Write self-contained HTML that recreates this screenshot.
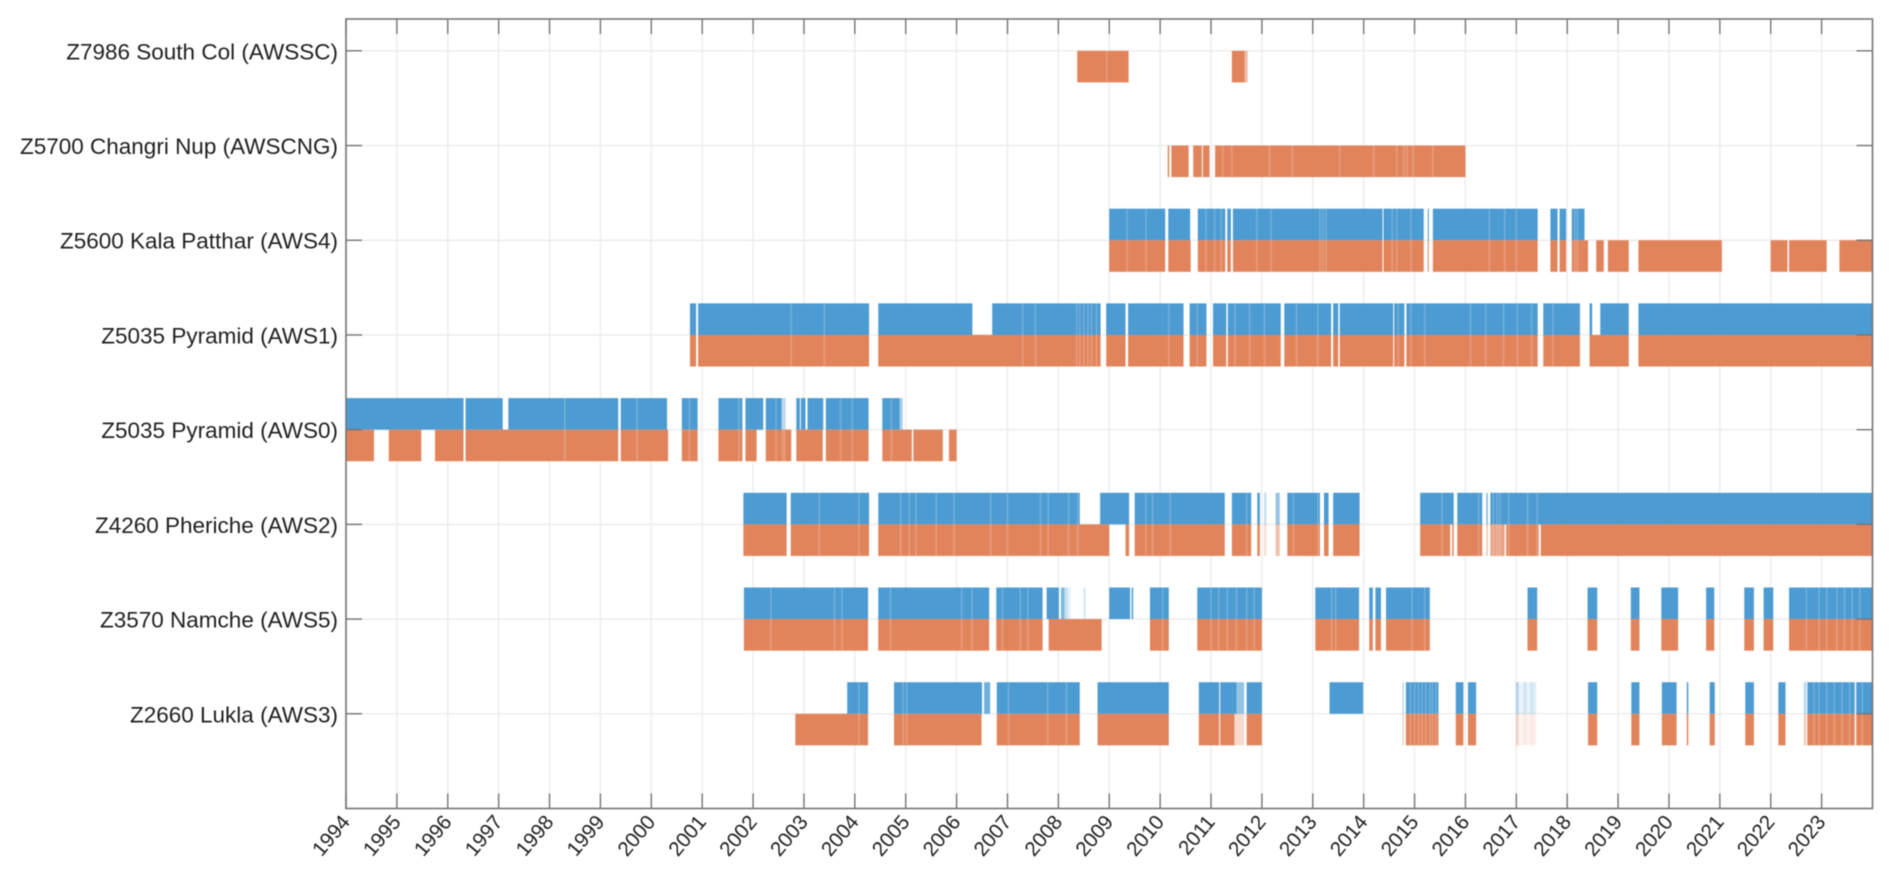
<!DOCTYPE html>
<html>
<head>
<meta charset="utf-8">
<title>AWS data availability</title>
<style>
html,body{margin:0;padding:0;background:#fff;width:1892px;height:886px;overflow:hidden}
svg{display:block;filter:blur(0.45px)}
text{font-family:"Liberation Sans",Arial,sans-serif;fill:#1f1f1f;font-size:22.5px}
</style>
</head>
<body>
<svg id="chart" xmlns="http://www.w3.org/2000/svg" width="1892" height="886" viewBox="0 0 1892 886">
<rect width="1892" height="886" fill="#ffffff"/>
</svg>
<script>
// Categories and ticks
const yearTicks = [1994,1995,1996,1997,1998,1999,2000,2001,2002,2003,2004,2005,2006,2007,2008,2009,2010,2011,2012,2013,2014,2015,2016,2017,2018,2019,2020,2021,2022,2023];
const stationLabels = ["Z2660 Lukla (AWS3)","Z3570 Namche (AWS5)","Z4260 Pheriche (AWS2)","Z5035 Pyramid (AWS0)","Z5035 Pyramid (AWS1)","Z5600 Kala Patthar (AWS4)","Z5700 Changri Nup (AWSCNG)","Z7986 South Col (AWSSC)"];
const stationRows = [1,2,3,4,5,6,7,8];

// Availability spans: [start year, end year, optional coverage]
const luklaBlue = [[2003.85,2004.26],[2004.77,2006.50],[2006.54,2006.66,0.8],[2006.79,2008.42],[2008.77,2010.17],[2010.76,2011.16],[2011.18,2011.50],[2011.50,2011.65,0.6],[2011.70,2012.0],[2013.33,2013.99],[2014.76,2014.79,0.35],[2014.83,2015.47],[2015.81,2015.96],[2016.05,2016.21],[2016.99,2017.05,0.38],[2017.05,2017.14,0.12],[2017.14,2017.2,0.26],[2017.2,2017.27,0.12],[2017.27,2017.33,0.26],[2017.33,2017.39,0.18],[2018.41,2018.59],[2019.26,2019.42],[2019.86,2020.15],[2020.35,2020.38],[2020.80,2020.90],[2021.50,2021.67],[2022.15,2022.29],[2022.65,2022.70,0.4],[2022.72,2023.65],[2023.68,2024]];
const luklaOrange = [[2002.83,2004.26],[2004.77,2006.49],[2006.79,2008.42],[2008.77,2010.17],[2010.76,2011.16],[2011.18,2011.46],[2011.46,2011.65,0.3],[2011.70,2012.0],[2014.76,2014.79,0.35],[2014.83,2015.47],[2015.81,2015.96],[2016.05,2016.21],[2016.99,2017.05,0.3],[2017.05,2017.14,0.1],[2017.14,2017.2,0.18],[2017.2,2017.27,0.1],[2017.27,2017.33,0.18],[2017.33,2017.39,0.12],[2018.41,2018.59],[2019.26,2019.42],[2019.86,2020.15],[2020.35,2020.38],[2020.80,2020.90],[2021.50,2021.67],[2022.15,2022.29],[2022.65,2022.70,0.4],[2022.72,2023.65],[2023.68,2024]];
const luklaStripes = [2004.08,2004.95,2005.02,2007.02,2007.79,2008.16,2014.92,2015.0,2015.08,2015.15,2015.22,2015.3,2015.35,2015.42,2022.85,2022.95,2023.1,2023.25,2023.4,2023.55,2023.8];

const namcheBlue = [[2001.82,2004.26],[2004.46,2006.64],[2006.78,2007.69],[2007.77,2008.01],[2008.05,2008.12,0.7],[2008.12,2008.19,0.3],[2008.19,2008.25,0.12],[2008.50,2008.53,0.3],[2009.0,2009.41],[2009.44,2009.47],[2009.80,2010.17],[2010.73,2012.0],[2013.05,2013.91],[2014.11,2014.18],[2014.23,2014.34],[2014.44,2015.30],[2017.22,2017.41],[2018.40,2018.59],[2019.25,2019.42],[2019.85,2020.18],[2020.73,2020.89],[2021.48,2021.67],[2021.86,2022.05],[2022.36,2024]];
const namcheOrange = [[2001.82,2004.26],[2004.46,2006.64],[2006.78,2007.69],[2007.81,2008.85],[2009.80,2010.17],[2010.73,2012.0],[2013.05,2013.91],[2014.11,2014.18],[2014.23,2014.34],[2014.44,2015.30],[2017.22,2017.41],[2018.40,2018.59],[2019.25,2019.42],[2019.85,2020.18],[2020.73,2020.89],[2021.48,2021.67],[2021.86,2022.05],[2022.36,2024]];
const namcheStripes = [2002.35,2003.6,2003.75,2004.7,2006.1,2006.3,2006.9,2007.25,2007.4,2010.05,2011.0,2011.15,2011.32,2011.5,2011.7,2011.85,2013.37,2013.45,2014.95,2015.2,2022.7,2022.95,2023.1,2023.3,2023.45,2023.6,2023.75];

const phericheBlue = [[2001.81,2002.66],[2002.74,2004.28],[2004.46,2008.42],[2008.82,2009.39],[2009.50,2011.27],[2011.41,2011.79],[2011.91,2011.96],[2012.04,2012.09,0.3],[2012.27,2012.35,0.6],[2012.50,2013.14],[2013.22,2013.31],[2013.40,2013.92],[2015.11,2015.77],[2015.84,2016.33],[2016.41,2016.44,0.7],[2016.49,2024]];
const phericheOrange = [[2001.81,2002.66],[2002.74,2004.28],[2004.46,2009.0],[2009.32,2009.39],[2009.50,2011.27],[2011.41,2011.79],[2011.91,2011.96],[2012.04,2012.09,0.25],[2012.27,2012.35,0.5],[2012.50,2013.14],[2013.22,2013.31],[2013.40,2013.92],[2015.11,2015.70],[2015.74,2015.77],[2015.84,2016.33],[2016.41,2016.44,0.5],[2016.49,2016.77,0.75],[2016.80,2017.44],[2017.48,2024]];
const phericheStripes = [2003.3,2004.08,2004.9,2005.07,2005.2,2005.6,2005.95,2006.67,2007.0,2007.65,2007.8,2008.38,2008.2,2009.72,2009.85,2010.2,2011.7,2012.62,2013.1,2014.0,2015.54,2016.26,2016.55,2016.62,2016.68,2016.85,2017.22,2017.41];

const pyramid0Blue = [[1994,1996.31],[1996.35,1997.08],[1997.19,1999.35],[1999.40,2000.31],[2000.60,2000.91],[2001.32,2001.79],[2001.85,2002.20],[2002.25,2002.56],[2002.56,2002.64,0.45],[2002.85,2002.92],[2002.94,2003.03],[2003.07,2003.38],[2003.43,2004.27],[2004.54,2004.88],[2004.88,2004.94,0.5]];
const pyramid0Orange = [[1994,1994.55],[1994.84,1995.48],[1995.75,1996.31],[1996.35,1999.35],[1999.40,2000.33],[2000.60,2000.91],[2001.32,2001.79],[2001.85,2002.07],[2002.25,2002.75],[2002.85,2003.37],[2003.43,2004.27],[2004.54,2005.12],[2005.15,2005.73],[2005.85,2006.0]];
const pyramid0Stripes = [1998.30,1999.72,2000.75,2001.72,2002.45,2002.58,2002.62,2003.72,2003.95,2004.72];

const pyramid1Blue = [[2000.76,2000.88],[2000.92,2004.28],[2004.46,2006.31],[2006.70,2008.83],[2008.94,2009.32],[2009.37,2010.46],[2010.58,2010.91],[2011.04,2011.30],[2011.33,2012.37],[2012.44,2013.36],[2013.40,2013.50],[2013.53,2014.58],[2014.60,2014.80],[2014.84,2017.42],[2017.53,2018.25],[2018.44,2018.49],[2018.65,2019.21],[2019.40,2024]];
const pyramid1Orange = [[2000.76,2000.88],[2000.92,2004.28],[2004.46,2008.83],[2008.94,2009.32],[2009.37,2010.46],[2010.58,2010.91],[2011.04,2011.30],[2011.33,2012.37],[2012.44,2013.36],[2013.40,2013.50],[2013.53,2014.58],[2014.60,2014.80],[2014.84,2017.42],[2017.53,2018.25],[2018.44,2019.21],[2019.40,2024]];
const pyramid1Stripes = [2002.75,2003.4,2007.3,2007.55,2008.36,2008.42,2008.5,2008.58,2008.65,2008.75,2010.17,2010.73,2011.47,2011.76,2012.05,2012.68,2013.1,2014.68,2014.93,2015.2,2016.1,2016.4,2016.75,2017.02,2017.3,2017.72];

const kalaBlue = [[2009.0,2010.10],[2010.16,2010.59],[2010.74,2011.28],[2011.32,2011.39],[2011.43,2014.37],[2014.39,2015.18],[2015.26,2015.28],[2015.36,2017.42],[2017.67,2017.81],[2017.85,2017.98],[2018.09,2018.34]];
const kalaOrange = [[2009.0,2010.10],[2010.16,2010.60],[2010.74,2011.28],[2011.32,2011.39],[2011.43,2014.37],[2014.39,2015.18],[2015.26,2015.28],[2015.36,2017.42],[2017.67,2017.81],[2017.85,2017.98],[2018.09,2018.41],[2018.57,2018.72],[2018.80,2019.21],[2019.40,2021.04],[2022.0,2022.33],[2022.36,2023.10],[2023.35,2024]];
const kalaStripes = [2009.35,2009.72,2010.9,2011.07,2011.2,2011.9,2012.18,2013.14,2013.2,2013.26,2014.56,2014.65,2014.93,2016.47,2016.77,2017.0,2018.15,2018.2];

const changriOrange = [[2010.15,2010.18],[2010.22,2010.56],[2010.65,2010.82],[2010.84,2010.97],[2011.08,2016.0]];
const changriStripes = [2011.23,2011.41,2012.15,2012.6,2013.53,2014.2,2014.65,2014.79,2014.85,2014.97,2015.36];

const southColOrange = [[2008.37,2009.38],[2011.41,2011.66],[2011.66,2011.72,0.55]];
const southColStripes = [2008.95];

// Axis geometry
const plotLeft = 346, plotRight = 1872.5, plotTop = 19, plotBottom = 808.5;
const yearMin = 1994, yearMax = 2024, rowMin = 0, rowMax = 8.336;
const barHalf = 1 / 3;
const xAxis = function (year) { return plotLeft + (year - yearMin) * (plotRight - plotLeft) / (yearMax - yearMin); };
const yAxis = function (row) { return plotBottom - (row - rowMin) * (plotBottom - plotTop) / (rowMax - rowMin); };

const svg = document.getElementById('chart');
const NS = 'http://www.w3.org/2000/svg';
function make(tag, props) {
  const el = document.createElementNS(NS, tag);
  for (const k in props) el.setAttribute(k, props[k]);
  svg.appendChild(el);
  return el;
}

// Grid
yearTicks.forEach(function (year) {
  const line = make('line', {x1: xAxis(year), x2: xAxis(year), y1: plotTop, y2: plotBottom, stroke: '#ececec', 'stroke-width': 1.4});
  
  
});
stationRows.forEach(function (row) {
  const line = make('line', {x1: plotLeft, x2: plotRight, y1: yAxis(row), y2: yAxis(row), stroke: '#ececec', 'stroke-width': 1.4});
  
  
});

// Bars
function drawSpans(spans, row, upper, color, name) {
  spans.forEach(function (span) {
    const top = upper ? yAxis(row + barHalf) : yAxis(row);
    const bottom = upper ? yAxis(row) : yAxis(row - barHalf);
    const cover = span.length > 2 ? span[2] : 1;
    const r = make('rect', {x: xAxis(span[0]), y: top, width: xAxis(span[1]) - xAxis(span[0]), height: bottom - top, fill: color, 'fill-opacity': 0.95 * cover});
    
    
  });
}
function drawStripes(stripes, row, lower, upper, name) {
  stripes.forEach(function (year) {
    const top = upper ? yAxis(row + barHalf) : yAxis(row);
    const bottom = lower ? yAxis(row - barHalf) : yAxis(row);
    const r = make('rect', {x: xAxis(year) - 0.8, y: top, width: 1.6, height: bottom - top, fill: '#ffffff', 'fill-opacity': 0.2});
    
    
  });
}
const BLUE = '#4296d0', ORANGE = '#e07d52';
drawSpans(luklaBlue, 1, true, BLUE, 'lukla-blue-bar');
drawSpans(luklaOrange, 1, false, ORANGE, 'lukla-orange-bar');
drawStripes(luklaStripes, 1, true, true, 'lukla-gap-stripe');
drawSpans(namcheBlue, 2, true, BLUE, 'namche-blue-bar');
drawSpans(namcheOrange, 2, false, ORANGE, 'namche-orange-bar');
drawStripes(namcheStripes, 2, true, true, 'namche-gap-stripe');
drawSpans(phericheBlue, 3, true, BLUE, 'pheriche-blue-bar');
drawSpans(phericheOrange, 3, false, ORANGE, 'pheriche-orange-bar');
drawStripes(phericheStripes, 3, true, true, 'pheriche-gap-stripe');
drawSpans(pyramid0Blue, 4, true, BLUE, 'pyramid-aws0-blue-bar');
drawSpans(pyramid0Orange, 4, false, ORANGE, 'pyramid-aws0-orange-bar');
drawStripes(pyramid0Stripes, 4, true, true, 'pyramid-aws0-gap-stripe');
drawSpans(pyramid1Blue, 5, true, BLUE, 'pyramid-aws1-blue-bar');
drawSpans(pyramid1Orange, 5, false, ORANGE, 'pyramid-aws1-orange-bar');
drawStripes(pyramid1Stripes, 5, true, true, 'pyramid-aws1-gap-stripe');
drawSpans(kalaBlue, 6, true, BLUE, 'kala-patthar-blue-bar');
drawSpans(kalaOrange, 6, false, ORANGE, 'kala-patthar-orange-bar');
drawStripes(kalaStripes, 6, true, true, 'kala-patthar-gap-stripe');
drawSpans(changriOrange, 7, false, ORANGE, 'changri-nup-orange-bar');
drawStripes(changriStripes, 7, true, false, 'changri-nup-gap-stripe');
drawSpans(southColOrange, 8, false, ORANGE, 'south-col-orange-bar');
drawStripes(southColStripes, 8, true, false, 'south-col-gap-stripe');

// Axes box
const box = make('rect', {x: plotLeft, y: plotTop, width: plotRight - plotLeft, height: plotBottom - plotTop, fill: 'none', stroke: '#757575', 'stroke-width': 1.6});



// X ticks and labels
yearTicks.forEach(function (year, i) {
  const x = xAxis(year);
  const t1 = make('line', {x1: x, x2: x, y1: plotTop, y2: plotTop + 15, stroke: '#757575', 'stroke-width': 1.4});
  
  
  const t2 = make('line', {x1: x, x2: x, y1: plotBottom, y2: plotBottom - 15, stroke: '#757575', 'stroke-width': 1.4});
  
  
  const lx = x + 5, ly = plotBottom + 14;
  const label = make('text', {x: lx, y: ly, 'text-anchor': 'end', transform: 'rotate(-50 ' + lx + ' ' + ly + ')', style: 'font-size:20.5px'});
  label.textContent = String(yearTicks[i]);
  
  
});

// Y ticks and labels
stationRows.forEach(function (row, i) {
  const y = yAxis(row);
  const t1 = make('line', {x1: plotLeft, x2: plotLeft + 16, y1: y, y2: y, stroke: '#757575', 'stroke-width': 1.4});
  
  
  const t2 = make('line', {x1: plotRight - 16, x2: plotRight, y1: y, y2: y, stroke: '#757575', 'stroke-width': 1.4});
  
  
  const label = make('text', {x: 338, y: y + 8.5, 'text-anchor': 'end'});
  label.textContent = stationLabels[i];
  
  
});
</script>
</body>
</html>
